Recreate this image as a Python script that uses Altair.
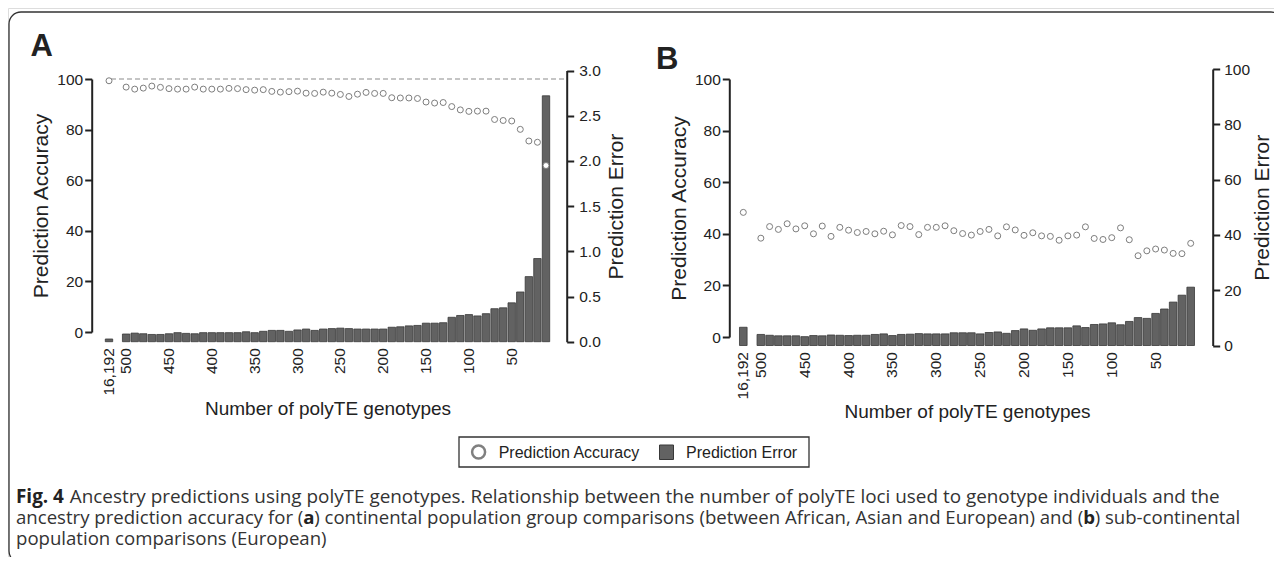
import altair as alt
import pandas as pd

# ---------------- data ----------------
genotype_counts = ["16,192"] + [str(v) for v in range(500, 0, -10)]
x_tick_labels = ["16,192", "500", "450", "400", "350", "300", "250", "200", "150", "100", "50"]

accuracy_A = [99.3,
              96.8, 96.0, 96.4, 97.2, 96.7, 96.2, 96.0, 96.0, 96.8, 96.0,
              96.0, 96.0, 96.3, 96.2, 95.8, 95.6, 95.8, 95.1, 94.8, 95.0,
              95.2, 94.4, 94.3, 94.8, 94.4, 93.9, 93.1, 94.0, 94.7, 94.3,
              94.3, 92.6, 92.5, 92.5, 92.3, 90.9, 90.5, 90.7, 89.1, 87.8,
              87.2, 87.3, 87.3, 84.0, 83.6, 83.4, 80.1, 75.5, 75.0, 65.8]
error_A = [0.03,
           0.085, 0.095, 0.088, 0.08, 0.08, 0.088, 0.10, 0.092, 0.088, 0.10,
           0.10, 0.10, 0.10, 0.10, 0.11, 0.10, 0.115, 0.125, 0.125, 0.115,
           0.13, 0.14, 0.125, 0.14, 0.145, 0.15, 0.145, 0.14, 0.14, 0.14,
           0.14, 0.16, 0.165, 0.175, 0.18, 0.205, 0.205, 0.21, 0.27, 0.29,
           0.30, 0.285, 0.31, 0.365, 0.375, 0.43, 0.55, 0.72, 0.92, 2.72]
accuracy_B = [48.3,
              38.3, 42.8, 41.7, 43.9, 41.9, 43.1, 40.0, 43.0, 39.0, 42.5,
              41.4, 40.5, 40.9, 40.0, 41.0, 39.6, 43.2, 42.8, 39.7, 42.5,
              42.5, 43.1, 41.2, 40.1, 39.5, 40.9, 41.7, 39.2, 42.7, 41.5,
              39.4, 40.4, 39.2, 39.0, 37.5, 39.2, 39.5, 42.7, 38.2, 37.8,
              38.5, 42.3, 37.7, 31.5, 33.4, 34.1, 33.7, 32.4, 32.3, 36.3]
error_B = [6.6,
           4.0, 3.7, 3.5, 3.5, 3.5, 3.2, 3.6, 3.5, 3.8, 3.7,
           3.6, 3.7, 3.7, 4.0, 4.2, 3.6, 4.0, 4.1, 4.3, 4.2,
           4.2, 4.2, 4.6, 4.6, 4.6, 4.2, 4.7, 4.9, 4.4, 5.4,
           6.0, 5.5, 6.0, 6.4, 6.4, 6.4, 7.1, 6.5, 7.6, 7.8,
           8.2, 7.5, 8.7, 10.1, 9.8, 11.6, 13.2, 15.7, 18.2, 21.1]

accuracy_ticks = [0, 20, 40, 60, 80, 100]
error_ticks_A = [0, 0.5, 1.0, 1.5, 2.0, 2.5, 3.0]
error_ticks_B = [0, 20, 40, 60, 80, 100]
reference_accuracy = [100]
legend_labels = ["Prediction Accuracy", "Prediction Error"]

# ---------------- layout / style ----------------
W, H = 1266, 549
AX = "Liberation Sans"
CAP = "Open Sans"
INK = "#222222"
BAR_FILL = "#626262"
BAR_STROKE = "#383838"
PT_STROKE = "#7d7d7d"

SPACER = "\u2009"  # empty slot between 16,192 and 500
x_domain = [genotype_counts[0], SPACER] + genotype_counts[1:]


def band_range(c_first, c_last, pad):
    n = len(x_domain)
    step = (c_last - c_first) / (n - 1)
    r0 = c_first - step * (1 - pad) / 2
    return [r0, r0 + step * (n - pad)]


def axis(**kw):
    base = dict(grid=False, labelFont=AX, labelFontSize=15.5, labelColor=INK,
                titleFont=AX, titleFontSize=21, titleFontWeight="normal", titleColor=INK,
                domainColor=INK, domainWidth=2, tickColor=INK, tickWidth=2, tickSize=7)
    base.update(kw)
    return alt.Axis(**base)


def make_panel(acc, err, err_domain, err_ticks, err_fmt, g, with_ref):
    df = pd.DataFrame({"genotypes": genotype_counts, "accuracy": acc, "error": err})
    xs = alt.Scale(domain=x_domain, range=band_range(g["c_first"], g["c_last"], g["pad"]),
                   paddingInner=g["pad"], paddingOuter=0)
    x_axis = axis(orient="bottom", offset=g["base"] - H, values=x_tick_labels,
                  labelAngle=270, labelAlign="right", labelBaseline="middle",
                  labelPadding=6, labelOverlap=False, domain=False, ticks=False, tickSize=0,
                  title="Number of polyTE genotypes", titleFontSize=19, titlePadding=4)
    acc_scale = alt.Scale(domain=[0, 100], range=g["acc_range"], nice=False, zero=False)
    acc_axis = axis(orient="left", offset=-g["left"], values=accuracy_ticks, labelPadding=2,
                    title="Prediction Accuracy", titleAngle=270, titleBaseline="bottom",
                    titlePadding=5)
    bars = alt.Chart(df).mark_bar(fill=BAR_FILL, stroke=BAR_STROKE, strokeWidth=0.8).encode(
        x=alt.X("genotypes:N", scale=xs, axis=x_axis),
        y=alt.Y("error:Q",
                scale=alt.Scale(domain=err_domain, range=g["err_range"], nice=False, zero=True),
                axis=axis(orient="right", offset=g["right"] - W, values=err_ticks, format=err_fmt,
                          labelPadding=g["rlp"], title="Prediction Error", titleAngle=270,
                          titleBaseline="top", titlePadding=g["rtp"])),
    )
    pts = alt.Chart(df).mark_point(shape="circle", size=36, fill="white", fillOpacity=1,
                                   stroke=PT_STROKE, strokeWidth=1, opacity=1).encode(
        x=alt.X("genotypes:N", scale=xs, axis=x_axis),
        y=alt.Y("accuracy:Q", scale=acc_scale, axis=acc_axis),
    )
    layers = [pts]
    if with_ref:
        ref = alt.Chart(pd.DataFrame({"reference": reference_accuracy})).mark_rule(
            color="#8c8c8c", strokeDash=[5, 3], strokeWidth=1.2).encode(
            y=alt.Y("reference:Q", scale=acc_scale, axis=acc_axis),
            x=alt.value(g["ref_x0"]), x2=alt.value(g["right"]))
        layers = [ref, pts]
    return alt.layer(bars, alt.layer(*layers)).resolve_scale(y="independent")


geoA = dict(left=83.7, right=558.7, c_first=101, c_last=538, pad=0.136,
            acc_range=[324, 71], err_range=[333.7, 62.5], base=333.7, ref_x0=103,
            rlp=5, rtp=5)
geoB = dict(left=721.3, right=1204.7, c_first=735.3, c_last=1182.7, pad=0.133,
            acc_range=[329, 71], err_range=[337.5, 61], base=337.5, ref_x0=0,
            rlp=4, rtp=2)

panelA = make_panel(accuracy_A, error_A, [0, 3], error_ticks_A, ".1f", geoA, True)
panelB = make_panel(accuracy_B, error_B, [0, 100], error_ticks_B, "d", geoB, False)

one = pd.DataFrame({"k": [0]})


def txt(s, x, y, size, font=AX, weight="normal", align="left", baseline="alphabetic", color=INK):
    return alt.Chart(one).mark_text(font=font, fontSize=size, fontWeight=weight, align=align,
                                    baseline=baseline, color=color).encode(
        text=alt.value(s), x=alt.value(x), y=alt.value(y))


border = alt.Chart(one).mark_rect(fill="white", fillOpacity=0, stroke="#333333", strokeWidth=1.3,
                                  cornerRadius=12).encode(
    x=alt.value(1), x2=alt.value(1275), y=alt.value(4), y2=alt.value(555))

label_A = txt("A", 22.6, 48, 31, weight="bold")
label_B = txt("B", 648, 61, 31, weight="bold")

legend_box = alt.Chart(one).mark_rect(fill="white", stroke="#333333", strokeWidth=1.3).encode(
    x=alt.value(451), x2=alt.value(801), y=alt.value(429), y2=alt.value(459))
legend_circle = alt.Chart(one).mark_point(shape="circle", size=169, fill="white", fillOpacity=1,
                                          stroke="#808080", strokeWidth=2.5, opacity=1).encode(
    x=alt.value(470.6), y=alt.value(444))
legend_square = alt.Chart(one).mark_rect(fill=BAR_FILL, stroke=BAR_STROKE, strokeWidth=1).encode(
    x=alt.value(651.5), x2=alt.value(665.5), y=alt.value(437), y2=alt.value(451.5))
legend_t1 = txt(legend_labels[0], 490.7, 444.5, 16, baseline="middle")
legend_t2 = txt(legend_labels[1], 678, 444.5, 16, baseline="middle")

# caption (Open Sans, mixed bold)
f1 = 18.9
f = 18.6
x0 = 8
cap_color = "#333333"
l1, l2, l3 = 495, 516, 536.5
x_a = x0 + 15.446 * f
x_after_a = x_a + 0.586 * f
x_b = x_after_a + 41.343 * f
caption = [
    txt("Fig. 4", x0, l1, f1, font=CAP, weight="bold", color="#222222"),
    txt("Ancestry predictions using polyTE genotypes. Relationship between the number of polyTE loci "
        "used to genotype individuals and the", x0 + 2.842 * f1, l1, f1, font=CAP, color=cap_color),
    txt("ancestry prediction accuracy for (", x0, l2, f, font=CAP, color=cap_color),
    txt("a", x_a, l2, f, font=CAP, weight="bold", color="#222222"),
    txt(") continental population group comparisons", x_after_a, l2, f, font=CAP, color=cap_color),
    txt("(between African, Asian and European) and (", x_b, l2, f, font=CAP, align="right",
        color=cap_color),
    txt("b", x_b, l2, f, font=CAP, weight="bold", color="#222222"),
    txt(") sub-continental", x_b + 0.617 * f, l2, f, font=CAP, color=cap_color),
    txt("population comparisons (European)", x0, l3, f, font=CAP, color=cap_color),
]

chart = alt.layer(
    border, panelA, panelB, label_A, label_B,
    legend_box, legend_circle, legend_square, legend_t1, legend_t2, *caption
).resolve_scale(x="independent", y="independent").properties(
    width=W, height=H, padding=0, autosize=alt.AutoSizeParams(type="none")
).configure_view(strokeWidth=0).configure(background="white")

chart.save("out.html", embed_options={"renderer": "svg", "actions": False})
